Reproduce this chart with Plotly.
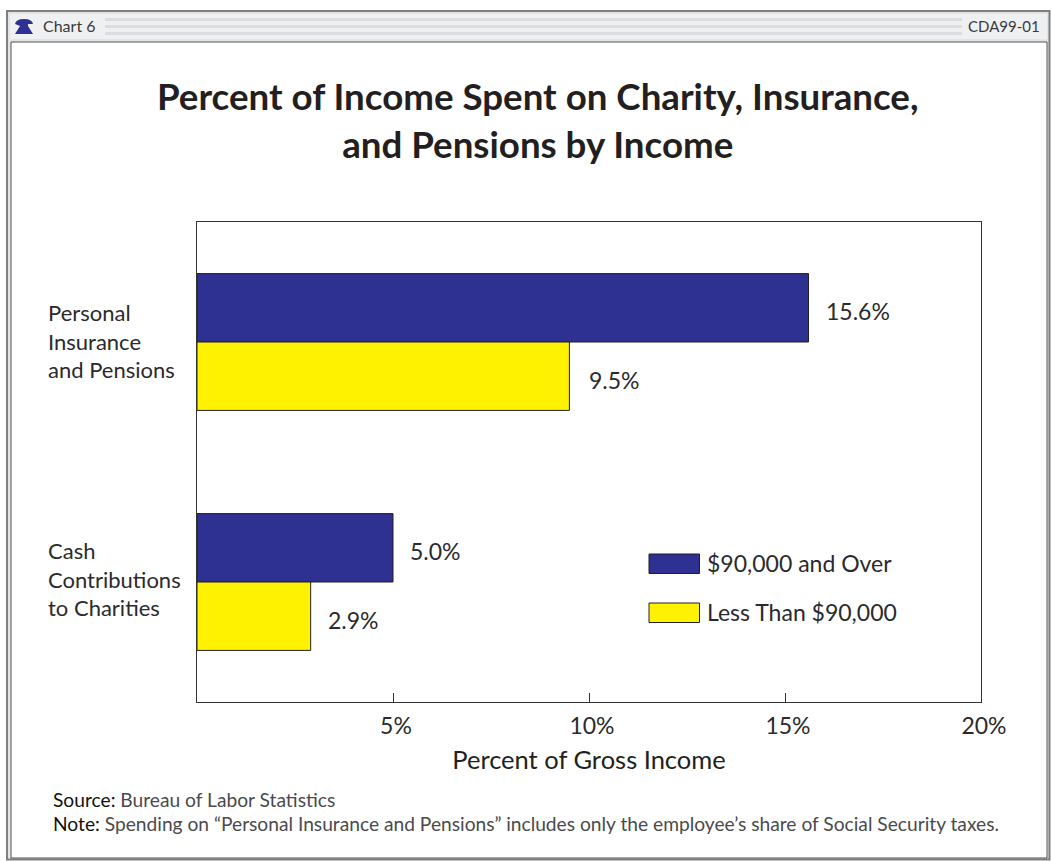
import plotly.graph_objects as go

W, H = 1052, 861
FONT = "Lato"
DARK = "#2b2a2c"

categories = ["Personal<br>Insurance<br>and Pensions", "Cash<br>Contributions<br>to Charities"]
series_names = ["$90,000 and Over", "Less Than $90,000"]
high_income = [15.6, 5.0]
low_income = [9.5, 2.9]
tick_values = [5, 10, 15, 20]
tick_labels = ["5%", "10%", "15%", "20%"]
title_text = "<b>Percent of Income Spent on Charity, Insurance,<br>and Pensions by Income</b>"
x_title = "Percent of Gross Income"
source_text = "Source: Bureau of Labor Statistics"
note_text = "Note: Spending on “Personal Insurance and Pensions” includes only the employee’s share of Social Security taxes."
BLUE, YELLOW = "#2e3192", "#fff200"


def px(x):
    return x / W


def py(y):
    return 1 - y / H


def rect(x0, y0, x1, y1, fill="rgba(0,0,0,0)", line=None, width=1, layer="below"):
    return dict(type="rect", xref="paper", yref="paper", x0=px(x0), x1=px(x1), y0=py(y0), y1=py(y1),
                fillcolor=fill, line=dict(color=line, width=width if line else 0), layer=layer)


fig = go.Figure()
for name, vals, col in [(series_names[0], high_income, BLUE), (series_names[1], low_income, YELLOW)]:
    fig.add_trace(go.Bar(name=name, y=categories, x=vals, orientation="h",
                         marker=dict(color=col, line=dict(color="#231f20", width=1))))

shapes = [
    rect(7, 11, 1049.5, 859.5, "#e3e4e6", "#7f7f7f", 2),
    rect(10, 14, 1047, 39, "#eff0f2"),
    rect(11, 42, 1047, 858, "#ffffff", "#555555", 1),
    rect(105, 18, 962, 21, "#dcdde0"),
    rect(105, 25, 962, 28, "#dcdde0"),
    rect(105, 32, 962, 35, "#dcdde0"),
    rect(649, 554, 699.5, 573.5, BLUE, "#231f20", 1, "above"),
    rect(649, 603, 699.5, 622.5, YELLOW, "#231f20", 1, "above"),
    # bell icon
    dict(type="path", xref="paper", yref="paper", fillcolor=BLUE, line=dict(width=0), layer="above",
         path=("M {} {} Q {} {} {} {} Q {} {} {} {} L {} {} L {} {} L {} {} L {} {} L {} {} Z").format(
             px(15), py(24), px(16), py(19), px(24), py(19), px(32), py(19), px(33), py(24),
             px(28), py(24), px(28), py(26), px(33), py(34), px(15), py(34), px(20), py(26))),
]

annotations = []


def note(text, x, y, size, color=DARK, anchor="left", align="left", family=FONT):
    annotations.append(dict(text=text, xref="paper", yref="paper", x=px(x), y=py(y), xanchor=anchor,
                            yanchor="middle", align=align, showarrow=False,
                            font=dict(family=family, size=size, color=color)))


note("Chart 6", 41, 26, 16, "#3a3a3c")
note("CDA99-01", 1042, 26, 15, "#3a3a3c", anchor="right")
note(title_text, 537.5, 120, 36.7, "#231f20", anchor="center", align="center")
note(categories[0], 46, 340.5, 22)
note(categories[1], 46, 578.5, 22)
note(series_names[0], 705, 563, 23)
note(series_names[1], 705, 612, 23)
note(source_text.replace("Source:", "<span style='color:#111'>Source:</span>"), 51, 799, 19.2, "#4a4a4c")
note(note_text.replace("Note:", "<span style='color:#111'>Note:</span>"), 51, 823, 19.2, "#4a4a4c")

for i, cat in enumerate(categories):
    for vals, side, yshift, xshift in [(high_income, -0.143, 3, 15), (low_income, 0.143, 4, 15 + 3 * (i == 0))]:
        annotations.append(dict(text=f"{vals[i]:.1f}%", x=vals[i], y=i + side, xref="x", yref="y",
                                xanchor="left", yanchor="middle", xshift=xshift, yshift=-yshift, showarrow=False,
                                font=dict(family=FONT, size=23, color=DARK)))

fig.update_layout(
    width=W, height=H, margin=dict(l=0, r=0, t=0, b=0, autoexpand=False),
    paper_bgcolor="#ffffff", plot_bgcolor="rgba(0,0,0,0)", showlegend=False,
    barmode="group", bargap=0.43, bargroupgap=0,
    shapes=shapes, annotations=annotations,
    xaxis=dict(domain=[px(197), px(981)], range=[0, 20], tickvals=tick_values, ticktext=tick_labels,
               ticks="inside", ticklen=9, tickcolor="#333333", tickwidth=1, showgrid=False, zeroline=False,
               showline=True, mirror=True, linecolor="#333333", linewidth=1, ticklabelstandoff=3,
               ticklabelshift=3, tickfont=dict(family=FONT, size=23, color=DARK),
               title=dict(text=x_title, standoff=13, font=dict(family=FONT, size=25.5, color="#231f20"))),
    yaxis=dict(domain=[py(702), py(222)], autorange="reversed", showticklabels=False, ticks="",
               showgrid=False, zeroline=False, showline=True, mirror=True, linecolor="#333333", linewidth=1),
)

fig.write_html("out.html", config={"displayModeBar": False}, post_script="document.body.style.margin='0';")
